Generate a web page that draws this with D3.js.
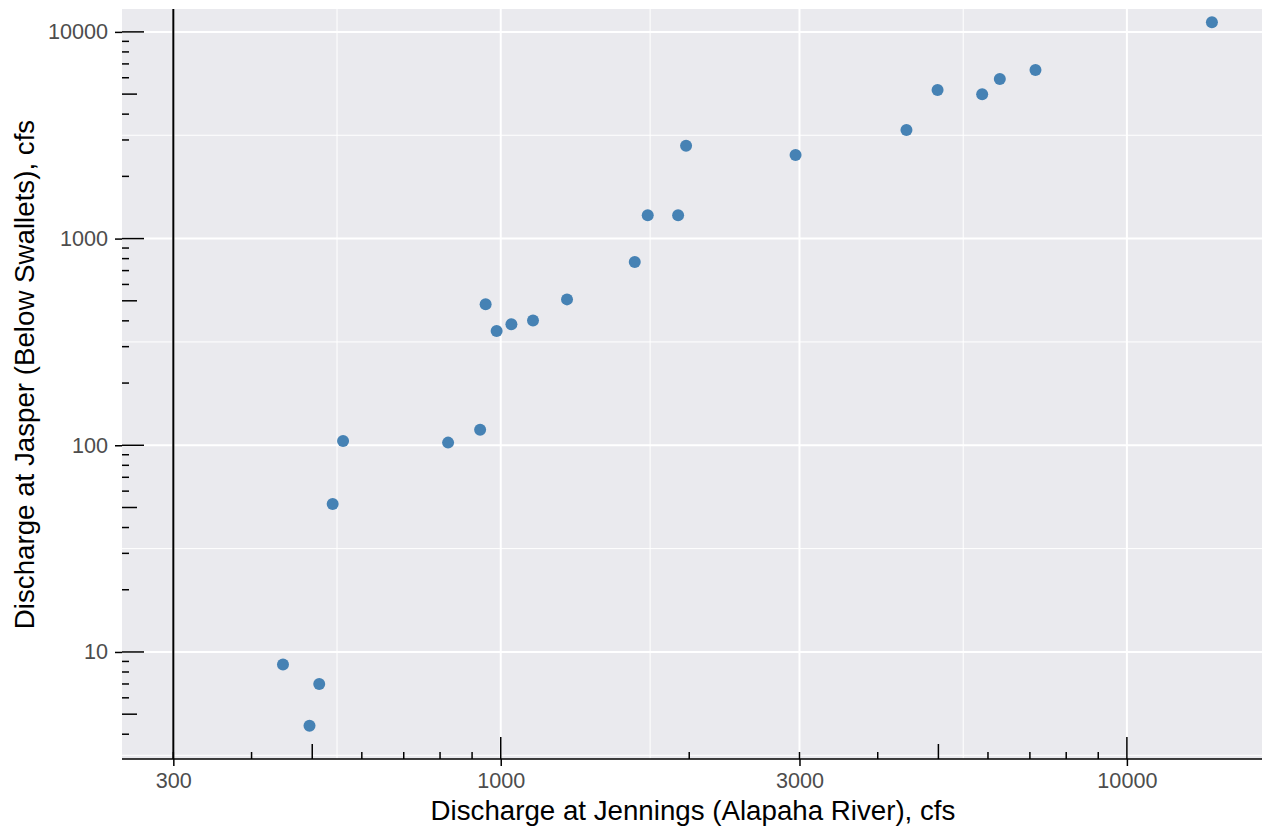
<!DOCTYPE html>
<html>
<head>
<meta charset="utf-8">
<script src="https://cdn.jsdelivr.net/npm/d3@7"></script>
<style>
  body { margin: 0; background: #fff; }
  svg text { font-family: "Liberation Sans", Arial, Helvetica, sans-serif; }
</style>
</head>
<body>
<div id="chart"></div>
<script>
// Donnees (cfs)
const jennings = [449, 513, 495, 539, 560, 824, 927, 946, 985, 1040, 1126, 1276,
                  1637, 1717, 1920, 1977, 2957, 4446, 4985, 5873, 6267, 7145, 13670];
const jasper = [8.7, 7.0, 4.4, 52, 105, 103, 119, 481, 357, 385, 401, 508,
                771, 1296, 1296, 2815, 2538, 3353, 5236, 4990, 5915, 6543, 11130];
const xBreaks = [300, 1000, 3000, 10000];
const yBreaks = [10, 100, 1000, 10000];
const xTitle = "Discharge at Jennings (Alapaha River), cfs";
const yTitle = "Discharge at Jasper (Below Swallets), cfs";

const W = 1262, H = 828;
const margin = {top: 9, right: 0, bottom: 69, left: 122},
    width = W - margin.left - margin.right,
    height = H - margin.top - margin.bottom;

const svg = d3.select("#chart").append("svg")
    .attr("width", W).attr("height", H);
const g = svg.append("g")
    .attr("transform", `translate(${margin.left},${margin.top})`);

const x = d3.scaleLog().domain([248.4, 16435]).range([0, width]);
const y = d3.scaleLog().domain([3.035, 12905]).range([height, 0]);

// fond du panneau
g.append("rect").attr("width", width).attr("height", height).attr("fill", "#EAEAEE");

// grilles : majeures sur les breaks, mineures au milieu (en log)
const mid = (a, b) => Math.sqrt(a * b);
const xMinor = [mid(100, 300), mid(300, 1000), mid(1000, 3000), mid(3000, 10000), mid(10000, 30000)]
    .filter(v => x(v) >= 0 && x(v) <= width);
const yMinor = [mid(1, 10), mid(10, 100), mid(100, 1000), mid(1000, 10000), mid(10000, 100000)]
    .filter(v => y(v) >= 0 && y(v) <= height);

g.selectAll(".xminor").data(xMinor).join("line")
    .attr("x1", d => x(d)).attr("x2", d => x(d)).attr("y1", 0).attr("y2", height)
    .attr("stroke", "#fff").attr("stroke-width", 1);
g.selectAll(".yminor").data(yMinor).join("line")
    .attr("y1", d => y(d)).attr("y2", d => y(d)).attr("x1", 0).attr("x2", width)
    .attr("stroke", "#fff").attr("stroke-width", 1);
g.selectAll(".xmajor").data(xBreaks).join("line")
    .attr("x1", d => x(d)).attr("x2", d => x(d)).attr("y1", 0).attr("y2", height)
    .attr("stroke", "#fff").attr("stroke-width", 2);
g.selectAll(".ymajor").data(yBreaks).join("line")
    .attr("y1", d => y(d)).attr("y2", d => y(d)).attr("x1", 0).attr("x2", width)
    .attr("stroke", "#fff").attr("stroke-width", 2);

// log ticks (1..9 x 10^k)
function logTicks(lo, hi) {
  const out = [];
  for (let k = lo; k <= hi; k++) {
    for (let m = 1; m <= 9; m++) out.push({v: m * Math.pow(10, k), m: m});
  }
  return out;
}
const len = m => m === 1 ? 22 : (m === 5 ? 15 : 7);

const xl = logTicks(2, 4).filter(d => d.v >= x.domain()[0] && d.v <= x.domain()[1]);
g.selectAll(".xlog").data(xl).join("line")
    .attr("x1", d => x(d.v)).attr("x2", d => x(d.v))
    .attr("y1", height).attr("y2", d => height - len(d.m))
    .attr("stroke", "#000").attr("stroke-width", 1.5);

const yl = logTicks(0, 4).filter(d => d.v >= y.domain()[0] && d.v <= y.domain()[1]);
g.selectAll(".ylog").data(yl).join("line")
    .attr("y1", d => y(d.v)).attr("y2", d => y(d.v))
    .attr("x1", 0).attr("x2", d => len(d.m))
    .attr("stroke", "#000").attr("stroke-width", 1.5);

// axes
const xAxis = g.append("g")
    .attr("transform", `translate(0,${height})`)
    .call(d3.axisBottom(x).tickValues(xBreaks).tickFormat(d3.format("d")).tickSize(7).tickPadding(7));
const yAxis = g.append("g")
    .call(d3.axisLeft(y).tickValues(yBreaks).tickFormat(d3.format("d")).tickSize(7).tickPadding(7));
xAxis.select(".domain").attr("d", `M0,0H${width}`).attr("stroke", "#000").attr("stroke-width", 1.5);
yAxis.select(".domain").remove();
[xAxis, yAxis].forEach(a => {
  a.selectAll(".tick line").attr("stroke", "#000").attr("stroke-width", 1.5);
  a.selectAll(".tick text").attr("fill", "#4D4D4D").style("font-size", "21.6px");
});

// ligne verticale a 300
g.append("line")
    .attr("x1", x(300)).attr("x2", x(300)).attr("y1", 0).attr("y2", height)
    .attr("stroke", "#000").attr("stroke-width", 2);

// points
g.selectAll("circle").data(jennings.map((d, i) => [d, jasper[i]])).join("circle")
    .attr("cx", d => x(d[0])).attr("cy", d => y(d[1])).attr("r", 6)
    .attr("fill", "#4682B4");

// titres
svg.append("text")
    .attr("x", 693).attr("y", 820)
    .attr("text-anchor", "middle").style("font-size", "27.7px").attr("fill", "#000")
    .text(xTitle);
svg.append("text")
    .attr("transform", `translate(34,374.5) rotate(-90)`)
    .attr("text-anchor", "middle").style("font-size", "27.7px").attr("fill", "#000")
    .text(yTitle);
</script>
</body>
</html>
